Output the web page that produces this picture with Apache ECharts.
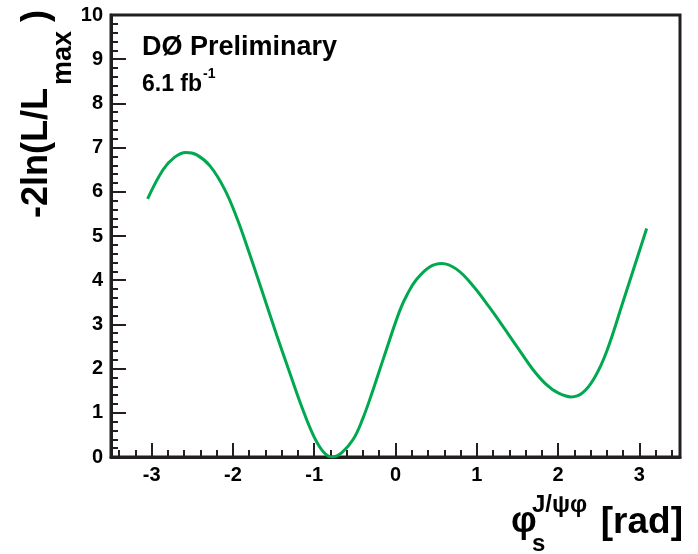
<!DOCTYPE html>
<html>
<head>
<meta charset="utf-8">
<script src="https://cdn.jsdelivr.net/npm/echarts@6/dist/echarts.min.js"></script>
<style>
  html, body { margin: 0; padding: 0; background: #fff; }
  #chart { width: 698px; height: 554px; }
</style>
</head>
<body>
<div id="chart"></div>
<script>
// phi_s scan
var phiValues = [-3.05, -2.86, -2.72, -2.58, -2.45, -2.28, -2.10, -1.95, -1.80, -1.65,
  -1.46, -1.30, -1.15, -1.00, -0.88, -0.78, -0.66, -0.52, -0.40, -0.28,
  -0.15, 0.05, 0.15, 0.26, 0.42, 0.57, 0.75, 0.95, 1.15, 1.35,
  1.53, 1.69, 1.85, 2.00, 2.16, 2.30, 2.45, 2.60, 2.80, 3.09];
var nllValues = [5.84, 6.50, 6.78, 6.89, 6.84, 6.58, 6.05, 5.40, 4.62, 3.80,
  2.75, 1.90, 1.12, 0.45, 0.10, 0.00, 0.10, 0.40, 0.88, 1.50,
  2.22, 3.30, 3.70, 4.02, 4.30, 4.38, 4.25, 3.88, 3.40, 2.88,
  2.40, 1.98, 1.65, 1.45, 1.36, 1.45, 1.80, 2.40, 3.52, 5.17];
var xRange = [-3.5, 3.5];
var yRange = [0, 10];

var FONT = '"Liberation Sans", Arial, Helvetica, sans-serif';
var INK = '#231f20';

var points = phiValues.map(function (x, i) { return [x, nllValues[i]]; });

var chart = echarts.init(document.getElementById('chart'));
chart.setOption({
  backgroundColor: '#fff',
  animation: false,
  grid: {
    left: 111, right: 18, top: 15, bottom: 97,
    show: true, borderColor: INK, borderWidth: 3
  },
  xAxis: [{
    type: 'value', position: 'bottom',
    min: xRange[0], max: xRange[1], splitNumber: 7,
    axisLine: { onZero: false, lineStyle: { color: INK, width: 3 } },
    axisTick: { inside: true, length: 14, lineStyle: { color: INK, width: 2 } },
    axisLabel: {
      showMinLabel: false, showMaxLabel: false, margin: 8,
      color: '#000', fontSize: 20, fontWeight: 'bold', fontFamily: FONT
    },
    splitLine: { show: false }
  }, {
    // minor ticks every 0.2
    type: 'value', position: 'bottom',
    min: xRange[0], max: xRange[1], splitNumber: 35,
    axisLine: { show: false, onZero: false },
    axisTick: { inside: true, length: 7, lineStyle: { color: INK, width: 2 } },
    axisLabel: { show: false },
    splitLine: { show: false }
  }],
  yAxis: {
    type: 'value', position: 'left',
    min: yRange[0], max: yRange[1], interval: 1,
    axisLine: { show: true, onZero: false, lineStyle: { color: INK, width: 3 } },
    axisTick: { show: true, inside: true, length: 15, lineStyle: { color: INK, width: 2 } },
    minorTick: { show: true, splitNumber: 5, length: 7, lineStyle: { color: INK, width: 2 } },
    axisLabel: { margin: 8, color: '#000', fontSize: 20, fontWeight: 'bold', fontFamily: FONT },
    splitLine: { show: false }
  },
  series: [{
    type: 'line',
    data: points,
    smooth: 0.4,
    showSymbol: false,
    lineStyle: { color: '#00a84f', width: 3 }
  }],
  graphic: [
    {
      type: 'text', x: 142, y: 48,
      style: { text: 'DØ Preliminary', fontSize: 27, fontWeight: 'bold', fontFamily: FONT, fill: '#000', verticalAlign: 'middle' }
    },
    {
      type: 'text', x: 142, y: 85,
      style: { text: '6.1 fb', fontSize: 23, fontWeight: 'bold', fontFamily: FONT, fill: '#000', verticalAlign: 'middle' }
    },
    {
      type: 'text', x: 203, y: 74,
      style: { text: '-1', fontSize: 14, fontWeight: 'bold', fontFamily: FONT, fill: '#000', verticalAlign: 'middle' }
    },
    {
      // y-axis title, rotated to read bottom to top
      type: 'group', x: 0, y: 218, rotation: Math.PI / 2,
      children: [
        { type: 'text', x: 0, y: 37,
          style: { text: '-2ln(L/L', fontSize: 36, fontWeight: 'bold', fontFamily: FONT, fill: '#000', verticalAlign: 'middle' } },
        { type: 'text', x: 133, y: 64,
          style: { text: 'max', fontSize: 27, fontWeight: 'bold', fontFamily: FONT, fill: '#000', verticalAlign: 'middle' } },
        { type: 'text', x: 196, y: 37,
          style: { text: ')', fontSize: 36, fontWeight: 'bold', fontFamily: FONT, fill: '#000', verticalAlign: 'middle' } }
      ]
    },
    {
      type: 'text', x: 511, y: 522,
      style: { text: 'φ', fontSize: 36, fontWeight: 'bold', fontFamily: FONT, fill: '#000', verticalAlign: 'middle' }
    },
    {
      type: 'text', x: 532, y: 505,
      style: { text: 'J/ψφ', fontSize: 24, fontWeight: 'bold', fontFamily: FONT, fill: '#000', verticalAlign: 'middle' }
    },
    {
      type: 'text', x: 532, y: 544,
      style: { text: 's', fontSize: 24, fontWeight: 'bold', fontFamily: FONT, fill: '#000', verticalAlign: 'middle' }
    },
    {
      type: 'text', x: 683, y: 523,
      style: { text: '[rad]', fontSize: 37, fontWeight: 'bold', fontFamily: FONT, fill: '#000', align: 'right', verticalAlign: 'middle' }
    }
  ]
});
</script>
</body>
</html>
